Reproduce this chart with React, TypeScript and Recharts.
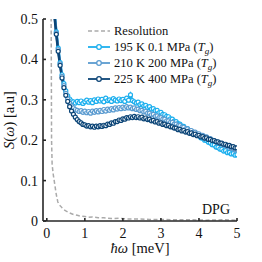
import { LineChart, Line, XAxis, YAxis, Customized } from 'recharts';

const energy = [
  0.2, 0.25, 0.3, 0.35, 0.4, 0.45, 0.5, 0.55, 0.6, 0.65, 0.7, 0.75, 0.8, 0.85, 0.9, 0.95,
  1.0, 1.05, 1.1, 1.15, 1.2, 1.25, 1.3, 1.35, 1.4, 1.45, 1.5, 1.55, 1.6, 1.65, 1.7, 1.75,
  1.8, 1.85, 1.9, 1.95, 2.0, 2.05, 2.1, 2.15, 2.2, 2.25, 2.3, 2.35, 2.4, 2.45, 2.5, 2.55,
  2.6, 2.65, 2.7, 2.75, 2.8, 2.85, 2.9, 2.95, 3.0, 3.05, 3.1, 3.15, 3.2, 3.25, 3.3, 3.35,
  3.4, 3.45, 3.5, 3.55, 3.6, 3.65, 3.7, 3.75, 3.8, 3.85, 3.9, 3.95, 4.0, 4.05, 4.1, 4.15,
  4.2, 4.25, 4.3, 4.35, 4.4, 4.45, 4.5, 4.55, 4.6, 4.65, 4.7, 4.75, 4.8, 4.85, 4.9, 4.95, 5.0,
];

const s195 = [
  0.52, 0.468, 0.428, 0.392, 0.362, 0.34, 0.322, 0.31, 0.302, 0.297, 0.295, 0.292, 0.296, 0.293, 0.297, 0.291,
  0.295, 0.299, 0.294, 0.298, 0.293, 0.3, 0.296, 0.302, 0.297, 0.301, 0.295, 0.304, 0.298, 0.3, 0.296, 0.303,
  0.299, 0.297, 0.302, 0.298, 0.301, 0.296, 0.304, 0.299, 0.312, 0.298, 0.295, 0.292, 0.294, 0.288, 0.29, 0.285,
  0.286, 0.281, 0.283, 0.277, 0.278, 0.273, 0.274, 0.268, 0.269, 0.264, 0.263, 0.259, 0.258, 0.253, 0.252, 0.247,
  0.246, 0.241, 0.24, 0.235, 0.234, 0.229, 0.229, 0.224, 0.222, 0.219, 0.216, 0.213, 0.211, 0.206, 0.205, 0.2,
  0.199, 0.195, 0.193, 0.189, 0.188, 0.183, 0.182, 0.178, 0.177, 0.173, 0.174, 0.169, 0.17, 0.166, 0.167, 0.163, 0.164,
];

const s210 = [
  0.515, 0.465, 0.424, 0.389, 0.358, 0.335, 0.316, 0.302, 0.292, 0.285, 0.28, 0.276, 0.274, 0.271, 0.273, 0.269,
  0.272, 0.268, 0.271, 0.267, 0.272, 0.269, 0.273, 0.27, 0.274, 0.271, 0.276, 0.272, 0.277, 0.274, 0.278, 0.275,
  0.28, 0.277, 0.281, 0.278, 0.282, 0.279, 0.283, 0.28, 0.282, 0.278, 0.28, 0.276, 0.277, 0.273, 0.274, 0.27,
  0.271, 0.267, 0.267, 0.263, 0.264, 0.259, 0.26, 0.256, 0.256, 0.252, 0.252, 0.248, 0.248, 0.244, 0.244, 0.24,
  0.24, 0.236, 0.236, 0.232, 0.232, 0.228, 0.228, 0.224, 0.224, 0.22, 0.22, 0.216, 0.216, 0.212, 0.212, 0.208,
  0.208, 0.204, 0.204, 0.2, 0.199, 0.196, 0.195, 0.192, 0.191, 0.188, 0.187, 0.184, 0.183, 0.18, 0.179, 0.176, 0.176,
];

const s225 = [
  0.51, 0.462, 0.42, 0.385, 0.354, 0.33, 0.311, 0.296, 0.283, 0.272, 0.264, 0.257, 0.251, 0.246, 0.243, 0.239,
  0.238, 0.235, 0.236, 0.233, 0.235, 0.232, 0.235, 0.233, 0.236, 0.234, 0.237, 0.236, 0.24, 0.239, 0.243, 0.242,
  0.246, 0.246, 0.25, 0.249, 0.253, 0.252, 0.256, 0.255, 0.258, 0.256, 0.259, 0.256, 0.258, 0.255, 0.257, 0.253,
  0.255, 0.251, 0.252, 0.248, 0.249, 0.245, 0.246, 0.242, 0.243, 0.239, 0.24, 0.236, 0.237, 0.233, 0.233, 0.23,
  0.23, 0.226, 0.227, 0.223, 0.224, 0.22, 0.221, 0.217, 0.218, 0.214, 0.215, 0.211, 0.212, 0.208, 0.209, 0.205,
  0.206, 0.202, 0.202, 0.199, 0.199, 0.196, 0.196, 0.193, 0.193, 0.19, 0.19, 0.187, 0.187, 0.184, 0.184, 0.181, 0.181,
];

const resEnergy = [
  0.11, 0.12, 0.125, 0.14, 0.17, 0.21, 0.25, 0.29, 0.33, 0.38, 0.42, 0.5, 0.6, 0.7, 0.8, 0.9,
  1.0, 1.1, 1.2, 1.35, 1.5, 1.7, 1.9, 2.1, 2.4, 2.7, 3.0, 3.4, 3.8, 4.2, 4.6, 5.0,
];
const resValues = [
  0.6, 0.35, 0.2, 0.14, 0.115, 0.09, 0.065, 0.047, 0.04, 0.035, 0.03, 0.025, 0.02, 0.016, 0.014, 0.012,
  0.011, 0.009, 0.01, 0.008, 0.008, 0.006, 0.007, 0.005, 0.005, 0.004, 0.004, 0.003, 0.003, 0.002, 0.003, 0.002,
];

const xTicks = [0, 1, 2, 3, 4, 5];
const yTicks = [0, 0.1, 0.2, 0.3, 0.4, 0.5];

const seriesNames = ['195 K 0.1 MPa', '210 K 200 MPa', '225 K 400 MPa'];
const seriesKeys = ['s195', 's210', 's225'];
const seriesColors = ['#1CAFEE', '#5B9BD0', '#0C4577'];

const data = energy.map((e, i) => ({ e, s195: s195[i], s210: s210[i], s225: s225[i] }));
const resData = resEnergy.map((e, i) => ({ e, res: resValues[i] }));

const FONT = '"Liberation Serif", "DejaVu Serif", serif';
const AXIS = '#262626';

// legend drawn straight into the svg so it doesn't eat plot space
function LegendBox() {
  const x0 = 88;
  const rows = [35, 51, 67, 83];
  return (
    <g fontFamily={FONT} fontSize={12.5} fill="#111">
      <line x1={x0} y1={rows[0] - 4} x2={x0 + 22} y2={rows[0] - 4} stroke="#aaaaaa" strokeWidth={1.5} strokeDasharray="4 2.5" />
      <text x={x0 + 26} y={rows[0]}>Resolution</text>
      {seriesNames.map((name, i) => (
        <g key={name}>
          <line x1={x0} y1={rows[i + 1] - 4} x2={x0 + 22} y2={rows[i + 1] - 4} stroke={seriesColors[i]} strokeWidth={1.8} />
          <circle cx={x0 + 11} cy={rows[i + 1] - 4} r={2.3} fill="#fff" stroke={seriesColors[i]} strokeWidth={1.3} />
          <text x={x0 + 26} y={rows[i + 1]}>
            {name} (<tspan fontStyle="italic">T</tspan>
            <tspan fontStyle="italic" fontSize={9} dy={3}>g</tspan>
            <tspan dy={-3}>)</tspan>
          </text>
        </g>
      ))}
    </g>
  );
}

function DpgText() {
  return (
    <text x={230} y={214} textAnchor="end" fontFamily={FONT} fontSize={14} fill="#111">
      DPG
    </text>
  );
}

export default function App() {
  return (
    <div style={{ position: 'absolute', left: 0, top: 0, width: 262, height: 262, background: '#fff', fontFamily: FONT }}>
      <LineChart width={262} height={262} margin={{ top: 19, right: 25, bottom: 0, left: 0 }}>
        <XAxis
          xAxisId="b"
          type="number"
          dataKey="e"
          domain={[-0.1, 5]}
          ticks={xTicks}
          allowDataOverflow
          height={41}
          stroke={AXIS}
          strokeWidth={1.6}
          tickSize={-3}
          tickMargin={10}
          tick={{ fill: '#111', fontFamily: FONT, fontSize: 14 }}
          label={{
            content: () => (
              <text x={140} y={253} textAnchor="middle" fontFamily={FONT} fontSize={14.5} fill="#111">
                <tspan fontStyle="italic">ħω</tspan> [meV]
              </text>
            ),
          }}
        />
        <XAxis
          xAxisId="t"
          orientation="top"
          type="number"
          dataKey="e"
          domain={[-0.1, 5]}
          ticks={xTicks}
          allowDataOverflow
          height={0}
          stroke={AXIS}
          strokeWidth={1.6}
          tickSize={-3}
          tickFormatter={() => ''}
        />
        <YAxis
          yAxisId="l"
          type="number"
          domain={[0, 0.5]}
          ticks={yTicks}
          allowDataOverflow
          width={43}
          stroke={AXIS}
          strokeWidth={1.6}
          tickSize={-3}
          tickMargin={8}
          tick={{ fill: '#111', fontFamily: FONT, fontSize: 14 }}
          label={{
            content: () => (
              <text
                x={14}
                y={120}
                transform="rotate(-90 14 120)"
                textAnchor="middle"
                fontFamily={FONT}
                fontSize={14.5}
                fill="#111"
              >
                <tspan fontStyle="italic">S</tspan>(<tspan fontStyle="italic">ω</tspan>) [a.u]
              </text>
            ),
          }}
        />
        <YAxis
          yAxisId="r"
          orientation="right"
          type="number"
          domain={[0, 0.5]}
          ticks={yTicks}
          allowDataOverflow
          width={0}
          stroke={AXIS}
          strokeWidth={1.6}
          tickSize={-3}
          tickFormatter={() => ''}
        />
        <Line
          xAxisId="b"
          yAxisId="l"
          data={resData}
          dataKey="res"
          type="linear"
          stroke="#aaaaaa"
          strokeWidth={1.5}
          strokeDasharray="4 2.5"
          dot={false}
          isAnimationActive={false}
        />
        {seriesKeys.map((k, i) => (
          <Line
            key={k}
            xAxisId="b"
            yAxisId="l"
            data={data}
            dataKey={k}
            type="linear"
            stroke={seriesColors[i]}
            strokeWidth={2.6}
            dot={{ r: 2, fill: '#fff', stroke: seriesColors[i], strokeWidth: 1.2 }}
            isAnimationActive={false}
          />
        ))}
        <Customized component={LegendBox} />
        <Customized component={DpgText} />
      </LineChart>
    </div>
  );
}
